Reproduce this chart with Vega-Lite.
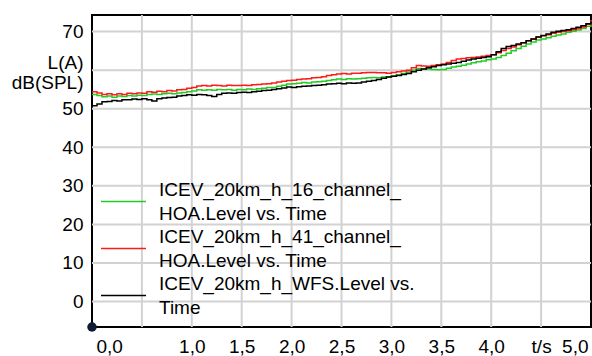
{
  "$schema": "https://vega.github.io/schema/vega-lite/v6.json",
  "width": 499,
  "height": 312,
  "autosize": {"type": "none"},
  "padding": {"left": 92, "top": 15, "right": 1, "bottom": 29},
  "background": "white",
  "config": {
    "font": "Liberation Sans",
    "view": {"stroke": "black", "strokeWidth": 2},
    "style": {"guide-label": {"lineHeight": 24}},
    "axis": {
      "labelFont": "Liberation Sans",
      "labelFontSize": 19,
      "labelColor": "black",
      "ticks": false,
      "domain": false,
      "grid": false,
      "labelOverlap": false,
      "title": null
    },
    "legend": {
      "labelFont": "Liberation Sans",
      "labelFontSize": 19,
      "labelColor": "black"
    }
  },
  "datasets": {
    "xgrid": [
      {"g": 0.5, "v": -6.6}, {"g": 0.5, "v": 74.3},
      {"g": 1.0, "v": -6.6}, {"g": 1.0, "v": 74.3},
      {"g": 1.5, "v": -6.6}, {"g": 1.5, "v": 74.3},
      {"g": 2.0, "v": -6.6}, {"g": 2.0, "v": 74.3},
      {"g": 2.5, "v": -6.6}, {"g": 2.5, "v": 74.3},
      {"g": 3.0, "v": -6.6}, {"g": 3.0, "v": 74.3},
      {"g": 3.5, "v": -6.6}, {"g": 3.5, "v": 74.3},
      {"g": 4.0, "v": -6.6}, {"g": 4.0, "v": 74.3},
      {"g": 4.5, "v": -6.6}, {"g": 4.5, "v": 74.3}
    ],
    "ygrid": [
      {"g": 0, "v": 0}, {"g": 0, "v": 5},
      {"g": 10, "v": 0}, {"g": 10, "v": 5},
      {"g": 20, "v": 0}, {"g": 20, "v": 5},
      {"g": 30, "v": 0}, {"g": 30, "v": 5},
      {"g": 40, "v": 0}, {"g": 40, "v": 5},
      {"g": 50, "v": 0}, {"g": 50, "v": 5},
      {"g": 60, "v": 0}, {"g": 60, "v": 5},
      {"g": 70, "v": 0}, {"g": 70, "v": 5}
    ],
    "origin": [{"t": 0, "L": -6.6}],
    "levels": [
      {"s":"HOA16","t":0.00,"L":53.7},{"s":"HOA16","t":0.05,"L":53.4},{"s":"HOA16","t":0.10,"L":53.1},{"s":"HOA16","t":0.15,"L":53.3},{"s":"HOA16","t":0.20,"L":53.0},{"s":"HOA16","t":0.25,"L":53.3},{"s":"HOA16","t":0.30,"L":53.2},{"s":"HOA16","t":0.35,"L":53.4},{"s":"HOA16","t":0.40,"L":53.3},{"s":"HOA16","t":0.45,"L":53.5},
      {"s":"HOA16","t":0.50,"L":53.4},{"s":"HOA16","t":0.55,"L":53.7},{"s":"HOA16","t":0.60,"L":53.8},{"s":"HOA16","t":0.65,"L":53.7},{"s":"HOA16","t":0.70,"L":53.9},{"s":"HOA16","t":0.75,"L":54.0},{"s":"HOA16","t":0.80,"L":53.9},{"s":"HOA16","t":0.85,"L":54.1},{"s":"HOA16","t":0.90,"L":54.2},{"s":"HOA16","t":0.95,"L":54.4},
      {"s":"HOA16","t":1.00,"L":54.6},{"s":"HOA16","t":1.05,"L":54.9},{"s":"HOA16","t":1.10,"L":54.8},{"s":"HOA16","t":1.15,"L":54.9},{"s":"HOA16","t":1.20,"L":54.8},{"s":"HOA16","t":1.25,"L":55.0},{"s":"HOA16","t":1.30,"L":54.9},{"s":"HOA16","t":1.35,"L":55.0},{"s":"HOA16","t":1.40,"L":54.8},{"s":"HOA16","t":1.45,"L":55.0},
      {"s":"HOA16","t":1.50,"L":54.9},{"s":"HOA16","t":1.55,"L":55.1},{"s":"HOA16","t":1.60,"L":55.0},{"s":"HOA16","t":1.65,"L":55.2},{"s":"HOA16","t":1.70,"L":55.3},{"s":"HOA16","t":1.75,"L":55.5},{"s":"HOA16","t":1.80,"L":55.5},{"s":"HOA16","t":1.85,"L":55.8},{"s":"HOA16","t":1.90,"L":56.1},{"s":"HOA16","t":1.95,"L":56.4},
      {"s":"HOA16","t":2.00,"L":56.5},{"s":"HOA16","t":2.05,"L":56.6},{"s":"HOA16","t":2.10,"L":56.8},{"s":"HOA16","t":2.15,"L":56.7},{"s":"HOA16","t":2.20,"L":56.9},{"s":"HOA16","t":2.25,"L":57.0},{"s":"HOA16","t":2.30,"L":57.1},{"s":"HOA16","t":2.35,"L":57.3},{"s":"HOA16","t":2.40,"L":57.5},{"s":"HOA16","t":2.45,"L":57.7},
      {"s":"HOA16","t":2.50,"L":57.6},{"s":"HOA16","t":2.55,"L":57.8},{"s":"HOA16","t":2.60,"L":57.7},{"s":"HOA16","t":2.65,"L":57.8},{"s":"HOA16","t":2.70,"L":57.9},{"s":"HOA16","t":2.75,"L":58.0},{"s":"HOA16","t":2.80,"L":58.1},{"s":"HOA16","t":2.85,"L":58.0},{"s":"HOA16","t":2.90,"L":58.2},{"s":"HOA16","t":2.95,"L":58.3},
      {"s":"HOA16","t":3.00,"L":58.5},{"s":"HOA16","t":3.05,"L":58.8},{"s":"HOA16","t":3.10,"L":59.1},{"s":"HOA16","t":3.15,"L":59.5},{"s":"HOA16","t":3.20,"L":60.0},{"s":"HOA16","t":3.25,"L":60.4},{"s":"HOA16","t":3.30,"L":60.3},{"s":"HOA16","t":3.35,"L":60.3},{"s":"HOA16","t":3.40,"L":60.2},{"s":"HOA16","t":3.45,"L":60.1},
      {"s":"HOA16","t":3.50,"L":60.2},{"s":"HOA16","t":3.55,"L":60.5},{"s":"HOA16","t":3.60,"L":60.8},{"s":"HOA16","t":3.65,"L":61.0},{"s":"HOA16","t":3.70,"L":61.3},{"s":"HOA16","t":3.75,"L":61.6},{"s":"HOA16","t":3.80,"L":61.9},{"s":"HOA16","t":3.85,"L":62.2},{"s":"HOA16","t":3.90,"L":62.4},{"s":"HOA16","t":3.95,"L":62.7},
      {"s":"HOA16","t":4.00,"L":62.9},{"s":"HOA16","t":4.05,"L":63.3},{"s":"HOA16","t":4.10,"L":63.8},{"s":"HOA16","t":4.15,"L":64.4},{"s":"HOA16","t":4.20,"L":65.0},{"s":"HOA16","t":4.25,"L":65.6},{"s":"HOA16","t":4.30,"L":66.2},{"s":"HOA16","t":4.35,"L":66.8},{"s":"HOA16","t":4.40,"L":67.3},{"s":"HOA16","t":4.45,"L":67.8},
      {"s":"HOA16","t":4.50,"L":68.1},{"s":"HOA16","t":4.55,"L":68.4},{"s":"HOA16","t":4.60,"L":68.8},{"s":"HOA16","t":4.65,"L":69.1},{"s":"HOA16","t":4.70,"L":69.4},{"s":"HOA16","t":4.75,"L":69.8},{"s":"HOA16","t":4.80,"L":70.1},{"s":"HOA16","t":4.85,"L":70.4},{"s":"HOA16","t":4.90,"L":70.8},{"s":"HOA16","t":4.95,"L":71.4},{"s":"HOA16","t":5.00,"L":72.3},

      {"s":"HOA41","t":0.00,"L":54.4},{"s":"HOA41","t":0.05,"L":54.1},{"s":"HOA41","t":0.10,"L":53.7},{"s":"HOA41","t":0.15,"L":53.9},{"s":"HOA41","t":0.20,"L":53.6},{"s":"HOA41","t":0.25,"L":53.9},{"s":"HOA41","t":0.30,"L":53.7},{"s":"HOA41","t":0.35,"L":54.0},{"s":"HOA41","t":0.40,"L":53.9},{"s":"HOA41","t":0.45,"L":54.1},
      {"s":"HOA41","t":0.50,"L":54.0},{"s":"HOA41","t":0.55,"L":54.4},{"s":"HOA41","t":0.60,"L":54.3},{"s":"HOA41","t":0.65,"L":54.5},{"s":"HOA41","t":0.70,"L":54.4},{"s":"HOA41","t":0.75,"L":54.7},{"s":"HOA41","t":0.80,"L":54.6},{"s":"HOA41","t":0.85,"L":54.9},{"s":"HOA41","t":0.90,"L":55.0},{"s":"HOA41","t":0.95,"L":55.3},
      {"s":"HOA41","t":1.00,"L":55.5},{"s":"HOA41","t":1.05,"L":55.9},{"s":"HOA41","t":1.10,"L":56.0},{"s":"HOA41","t":1.15,"L":55.9},{"s":"HOA41","t":1.20,"L":56.1},{"s":"HOA41","t":1.25,"L":56.0},{"s":"HOA41","t":1.30,"L":55.9},{"s":"HOA41","t":1.35,"L":56.1},{"s":"HOA41","t":1.40,"L":56.0},{"s":"HOA41","t":1.45,"L":56.0},
      {"s":"HOA41","t":1.50,"L":56.1},{"s":"HOA41","t":1.55,"L":56.0},{"s":"HOA41","t":1.60,"L":56.2},{"s":"HOA41","t":1.65,"L":56.3},{"s":"HOA41","t":1.70,"L":56.4},{"s":"HOA41","t":1.75,"L":56.5},{"s":"HOA41","t":1.80,"L":56.7},{"s":"HOA41","t":1.85,"L":56.9},{"s":"HOA41","t":1.90,"L":57.1},{"s":"HOA41","t":1.95,"L":57.3},
      {"s":"HOA41","t":2.00,"L":57.4},{"s":"HOA41","t":2.05,"L":57.6},{"s":"HOA41","t":2.10,"L":57.7},{"s":"HOA41","t":2.15,"L":57.8},{"s":"HOA41","t":2.20,"L":58.0},{"s":"HOA41","t":2.25,"L":58.1},{"s":"HOA41","t":2.30,"L":58.3},{"s":"HOA41","t":2.35,"L":58.6},{"s":"HOA41","t":2.40,"L":58.8},{"s":"HOA41","t":2.45,"L":59.0},
      {"s":"HOA41","t":2.50,"L":59.1},{"s":"HOA41","t":2.55,"L":59.0},{"s":"HOA41","t":2.60,"L":59.2},{"s":"HOA41","t":2.65,"L":59.2},{"s":"HOA41","t":2.70,"L":59.3},{"s":"HOA41","t":2.75,"L":59.4},{"s":"HOA41","t":2.80,"L":59.4},{"s":"HOA41","t":2.85,"L":59.3},{"s":"HOA41","t":2.90,"L":59.3},{"s":"HOA41","t":2.95,"L":59.2},
      {"s":"HOA41","t":3.00,"L":59.4},{"s":"HOA41","t":3.05,"L":59.6},{"s":"HOA41","t":3.10,"L":59.8},{"s":"HOA41","t":3.15,"L":60.0},{"s":"HOA41","t":3.20,"L":60.6},{"s":"HOA41","t":3.25,"L":61.2},{"s":"HOA41","t":3.30,"L":61.1},{"s":"HOA41","t":3.35,"L":61.0},{"s":"HOA41","t":3.40,"L":61.2},{"s":"HOA41","t":3.45,"L":61.4},
      {"s":"HOA41","t":3.50,"L":61.6},{"s":"HOA41","t":3.55,"L":62.0},{"s":"HOA41","t":3.60,"L":62.5},{"s":"HOA41","t":3.65,"L":62.9},{"s":"HOA41","t":3.70,"L":63.0},{"s":"HOA41","t":3.75,"L":63.2},{"s":"HOA41","t":3.80,"L":63.3},{"s":"HOA41","t":3.85,"L":63.4},{"s":"HOA41","t":3.90,"L":63.6},{"s":"HOA41","t":3.95,"L":63.8},
      {"s":"HOA41","t":4.00,"L":64.0},{"s":"HOA41","t":4.05,"L":64.5},{"s":"HOA41","t":4.10,"L":65.1},{"s":"HOA41","t":4.15,"L":65.6},{"s":"HOA41","t":4.20,"L":66.0},{"s":"HOA41","t":4.25,"L":66.6},{"s":"HOA41","t":4.30,"L":67.1},{"s":"HOA41","t":4.35,"L":67.6},{"s":"HOA41","t":4.40,"L":68.1},{"s":"HOA41","t":4.45,"L":68.6},
      {"s":"HOA41","t":4.50,"L":68.9},{"s":"HOA41","t":4.55,"L":69.2},{"s":"HOA41","t":4.60,"L":69.6},{"s":"HOA41","t":4.65,"L":69.8},{"s":"HOA41","t":4.70,"L":70.0},{"s":"HOA41","t":4.75,"L":70.2},{"s":"HOA41","t":4.80,"L":70.5},{"s":"HOA41","t":4.85,"L":70.8},{"s":"HOA41","t":4.90,"L":71.2},{"s":"HOA41","t":4.95,"L":71.9},{"s":"HOA41","t":5.00,"L":73.0},

      {"s":"WFS","t":0.00,"L":50.8},{"s":"WFS","t":0.05,"L":51.2},{"s":"WFS","t":0.10,"L":51.8},{"s":"WFS","t":0.15,"L":51.9},{"s":"WFS","t":0.20,"L":52.1},{"s":"WFS","t":0.25,"L":52.0},{"s":"WFS","t":0.30,"L":52.3},{"s":"WFS","t":0.35,"L":52.3},{"s":"WFS","t":0.40,"L":52.5},{"s":"WFS","t":0.45,"L":52.4},
      {"s":"WFS","t":0.50,"L":52.6},{"s":"WFS","t":0.55,"L":52.3},{"s":"WFS","t":0.60,"L":52.0},{"s":"WFS","t":0.65,"L":52.6},{"s":"WFS","t":0.70,"L":52.8},{"s":"WFS","t":0.75,"L":52.9},{"s":"WFS","t":0.80,"L":53.0},{"s":"WFS","t":0.85,"L":53.3},{"s":"WFS","t":0.90,"L":53.4},{"s":"WFS","t":0.95,"L":53.6},
      {"s":"WFS","t":1.00,"L":53.5},{"s":"WFS","t":1.05,"L":53.7},{"s":"WFS","t":1.10,"L":53.6},{"s":"WFS","t":1.15,"L":53.4},{"s":"WFS","t":1.20,"L":53.2},{"s":"WFS","t":1.25,"L":53.7},{"s":"WFS","t":1.30,"L":54.0},{"s":"WFS","t":1.35,"L":54.1},{"s":"WFS","t":1.40,"L":54.0},{"s":"WFS","t":1.45,"L":54.2},
      {"s":"WFS","t":1.50,"L":54.3},{"s":"WFS","t":1.55,"L":54.2},{"s":"WFS","t":1.60,"L":54.4},{"s":"WFS","t":1.65,"L":54.5},{"s":"WFS","t":1.70,"L":54.7},{"s":"WFS","t":1.75,"L":54.8},{"s":"WFS","t":1.80,"L":55.0},{"s":"WFS","t":1.85,"L":55.2},{"s":"WFS","t":1.90,"L":55.4},{"s":"WFS","t":1.95,"L":55.6},
      {"s":"WFS","t":2.00,"L":55.5},{"s":"WFS","t":2.05,"L":55.7},{"s":"WFS","t":2.10,"L":55.8},{"s":"WFS","t":2.15,"L":55.9},{"s":"WFS","t":2.20,"L":56.0},{"s":"WFS","t":2.25,"L":56.1},{"s":"WFS","t":2.30,"L":56.2},{"s":"WFS","t":2.35,"L":56.4},{"s":"WFS","t":2.40,"L":56.5},{"s":"WFS","t":2.45,"L":56.6},
      {"s":"WFS","t":2.50,"L":56.5},{"s":"WFS","t":2.55,"L":56.7},{"s":"WFS","t":2.60,"L":56.6},{"s":"WFS","t":2.65,"L":56.7},{"s":"WFS","t":2.70,"L":56.9},{"s":"WFS","t":2.75,"L":57.1},{"s":"WFS","t":2.80,"L":57.3},{"s":"WFS","t":2.85,"L":57.6},{"s":"WFS","t":2.90,"L":57.9},{"s":"WFS","t":2.95,"L":58.2},
      {"s":"WFS","t":3.00,"L":58.4},{"s":"WFS","t":3.05,"L":58.6},{"s":"WFS","t":3.10,"L":58.9},{"s":"WFS","t":3.15,"L":59.1},{"s":"WFS","t":3.20,"L":59.6},{"s":"WFS","t":3.25,"L":60.0},{"s":"WFS","t":3.30,"L":60.3},{"s":"WFS","t":3.35,"L":60.6},{"s":"WFS","t":3.40,"L":60.9},{"s":"WFS","t":3.45,"L":61.2},
      {"s":"WFS","t":3.50,"L":61.4},{"s":"WFS","t":3.55,"L":61.6},{"s":"WFS","t":3.60,"L":61.8},{"s":"WFS","t":3.65,"L":62.0},{"s":"WFS","t":3.70,"L":62.3},{"s":"WFS","t":3.75,"L":62.6},{"s":"WFS","t":3.80,"L":62.9},{"s":"WFS","t":3.85,"L":63.1},{"s":"WFS","t":3.90,"L":63.3},{"s":"WFS","t":3.95,"L":63.5},
      {"s":"WFS","t":4.00,"L":64.0},{"s":"WFS","t":4.05,"L":64.8},{"s":"WFS","t":4.10,"L":65.6},{"s":"WFS","t":4.15,"L":66.1},{"s":"WFS","t":4.20,"L":66.4},{"s":"WFS","t":4.25,"L":66.8},{"s":"WFS","t":4.30,"L":67.1},{"s":"WFS","t":4.35,"L":67.6},{"s":"WFS","t":4.40,"L":68.1},{"s":"WFS","t":4.45,"L":68.6},
      {"s":"WFS","t":4.50,"L":69.0},{"s":"WFS","t":4.55,"L":69.4},{"s":"WFS","t":4.60,"L":69.8},{"s":"WFS","t":4.65,"L":70.1},{"s":"WFS","t":4.70,"L":70.3},{"s":"WFS","t":4.75,"L":70.5},{"s":"WFS","t":4.80,"L":70.8},{"s":"WFS","t":4.85,"L":71.1},{"s":"WFS","t":4.90,"L":71.5},{"s":"WFS","t":4.95,"L":72.0},{"s":"WFS","t":5.00,"L":72.6}
    ]
  },
  "layer": [
    {
      "data": {"name": "xgrid"},
      "mark": {"type": "line", "stroke": "#d2d2d2", "strokeWidth": 2},
      "encoding": {
        "x": {"field": "g", "type": "quantitative"},
        "y": {"field": "v", "type": "quantitative"},
        "detail": {"field": "g", "type": "nominal"}
      }
    },
    {
      "data": {"name": "ygrid"},
      "mark": {"type": "line", "stroke": "#d2d2d2", "strokeWidth": 2},
      "encoding": {
        "x": {"field": "v", "type": "quantitative"},
        "y": {"field": "g", "type": "quantitative"},
        "detail": {"field": "g", "type": "nominal"}
      }
    },
    {
      "data": {"name": "levels"},
      "mark": {"type": "line", "interpolate": "step-after", "strokeWidth": 1.5},
      "encoding": {
        "x": {
          "field": "t",
          "type": "quantitative",
          "scale": {"domain": [0, 5], "nice": false, "zero": false},
          "axis": {
            "values": [0, 0.5, 1, 1.5, 2, 2.5, 3, 3.5, 4, 4.5, 5],
            "labelExpr": "datum.value == 0.5 ? '' : (datum.value == 4.5 ? 't/s' : replace(format(datum.value, '.1f'), '.', ','))",
            "labelAlign": {"condition": [{"test": "datum.value <= 0.01", "value": "left"}, {"test": "datum.value >= 4.99", "value": "right"}], "value": "center"},
            "labelOffset": {"condition": [{"test": "datum.value <= 0.01", "value": 4}, {"test": "datum.value >= 4.99", "value": -3}], "value": 0},
            "labelPadding": 10
          }
        },
        "y": {
          "field": "L",
          "type": "quantitative",
          "scale": {"domain": [-6.6, 74.3], "nice": false, "zero": false},
          "axis": {
            "values": [0, 10, 20, 30, 40, 50, 60, 70],
            "labelExpr": "datum.value == 60 ? ['L(A)', 'dB(SPL)'] : datum.label",
            "labelLineHeight": 20,
            "labelOffset": {"condition": {"test": "datum.value == 60", "value": -8}, "value": 0},
            "labelPadding": 9
          }
        },
        "color": {
          "field": "s",
          "type": "nominal",
          "scale": {"domain": ["HOA16", "HOA41", "WFS"], "range": ["#22cc22", "#ff1a1a", "#000000"]},
          "legend": {
            "title": null,
            "orient": "none",
            "legendX": 8,
            "legendY": 163,
            "padding": 0,
            "symbolType": "stroke",
            "symbolSize": 2025,
            "symbolStrokeWidth": 1.5,
            "labelOffset": 12,
            "labelBaseline": "line-bottom",
            "labelLimit": 500,
            "rowPadding": 1,
            "labelExpr": "datum.value == 'HOA16' ? ['ICEV_20km_h_16_channel_', 'HOA.Level vs. Time'] : (datum.value == 'HOA41' ? ['ICEV_20km_h_41_channel_', 'HOA.Level vs. Time'] : ['ICEV_20km_h_WFS.Level vs.', 'Time'])"
          }
        }
      }
    },
    {
      "data": {"name": "origin"},
      "mark": {"type": "point", "filled": true, "size": 90, "color": "#0d1c33", "opacity": 1, "clip": false},
      "encoding": {
        "x": {"field": "t", "type": "quantitative"},
        "y": {"field": "L", "type": "quantitative"}
      }
    }
  ]
}
